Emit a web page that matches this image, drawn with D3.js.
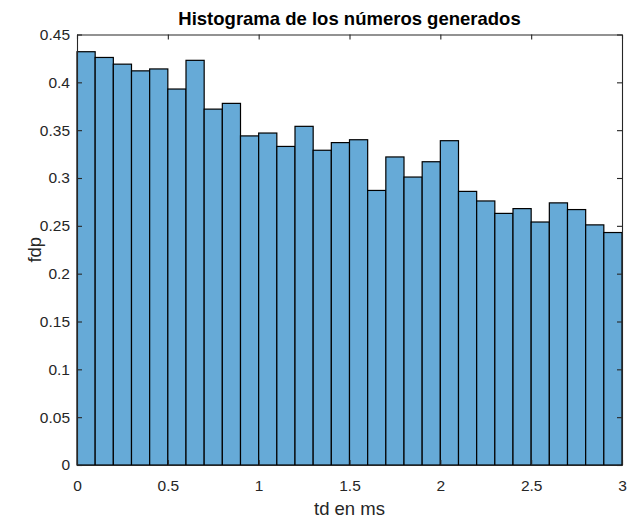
<!DOCTYPE html>
<html>
<head>
<meta charset="utf-8">
<script src="https://cdn.jsdelivr.net/npm/d3@7"></script>
<style>
  html, body { margin: 0; padding: 0; background: #fff; }
  svg { display: block; font-family: "Liberation Sans", Arial, Helvetica, sans-serif; }
</style>
</head>
<body>
<svg id="chart" width="627" height="520"></svg>
<script>
// Histogram bins: 30 bins of width 0.1 ms over [0, 3]
const binEdges = d3.range(0, 31).map(i => +(i * 0.1).toFixed(1));
const pdfValues = [
  0.432, 0.426, 0.419, 0.412, 0.414, 0.393, 0.423, 0.372, 0.378, 0.344,
  0.347, 0.333, 0.354, 0.329, 0.337, 0.340, 0.287, 0.322, 0.301, 0.317,
  0.339, 0.286, 0.276, 0.263, 0.268, 0.254, 0.274, 0.267, 0.251, 0.243
];
const xTicks = [0, 0.5, 1, 1.5, 2, 2.5, 3];
const yTicks = [0, 0.05, 0.1, 0.15, 0.2, 0.25, 0.3, 0.35, 0.4, 0.45];

const titleText = "Histograma de los números generados";
const xLabel = "td en ms";
const yLabel = "fdp";

const margin = { left: 77, right: 5, top: 34.5, bottom: 55 };
const W = 627, H = 520;
const svg = d3.select("#chart");
const axisColor = "#262626";

const x = d3.scaleLinear().domain([0, 3]).range([margin.left, W - margin.right]);
const y = d3.scaleLinear().domain([0, 0.45]).range([H - margin.bottom, margin.top]);

// Bars
const bins = pdfValues.map((v, i) => ({ x0: binEdges[i], x1: binEdges[i + 1], v }));
svg.append("g")
  .selectAll("rect")
  .data(bins)
  .join("rect")
  .attr("x", d => x(d.x0))
  .attr("y", d => y(d.v))
  .attr("width", d => x(d.x1) - x(d.x0))
  .attr("height", d => y(0) - y(d.v))
  .attr("fill", "#66aad7")
  .attr("stroke", "#000")
  .attr("stroke-width", 1.2);

// Axes (ticks pointing inward, box around the plot)
const tickLen = 5;
const fmt = d => String(d);

const xAxisB = d3.axisBottom(x).tickValues(xTicks).tickFormat(fmt).tickSizeInner(-tickLen).tickSizeOuter(0).tickPadding(15);
const xAxisT = d3.axisTop(x).tickValues(xTicks).tickFormat("").tickSizeInner(-tickLen).tickSizeOuter(0);
const yAxisL = d3.axisLeft(y).tickValues(yTicks).tickFormat(fmt).tickSizeInner(-tickLen).tickSizeOuter(0).tickPadding(7);
const yAxisR = d3.axisRight(y).tickValues(yTicks).tickFormat("").tickSizeInner(-tickLen).tickSizeOuter(0);

function style(g) {
  g.select(".domain").attr("stroke", axisColor).attr("stroke-width", 1.1);
  g.selectAll(".tick line").attr("stroke", axisColor).attr("stroke-width", 1.1);
  g.selectAll(".tick text").attr("fill", axisColor).attr("font-size", 15.5);
}

svg.append("g").attr("transform", `translate(0,${y(0)})`).call(xAxisB).call(style);
svg.append("g").attr("transform", `translate(0,${y(0.45)})`).call(xAxisT).call(style);
svg.append("g").attr("transform", `translate(${x(0)},0)`).call(yAxisL).call(style);
svg.append("g").attr("transform", `translate(${x(3)},0)`).call(yAxisR).call(style);

// Title and axis labels
svg.append("text")
  .attr("x", (x(0) + x(3)) / 2).attr("y", 25)
  .attr("text-anchor", "middle")
  .attr("font-size", 18.5).attr("font-weight", "bold")
  .attr("fill", "#000")
  .text(titleText);

svg.append("text")
  .attr("x", (x(0) + x(3)) / 2).attr("y", 515)
  .attr("text-anchor", "middle")
  .attr("font-size", 18.5)
  .attr("fill", axisColor)
  .text(xLabel);

svg.append("text")
  .attr("transform", `translate(41,${(y(0) + y(0.45)) / 2}) rotate(-90)`)
  .attr("text-anchor", "middle")
  .attr("font-size", 18.5)
  .attr("fill", axisColor)
  .text(yLabel);
</script>
</body>
</html>
